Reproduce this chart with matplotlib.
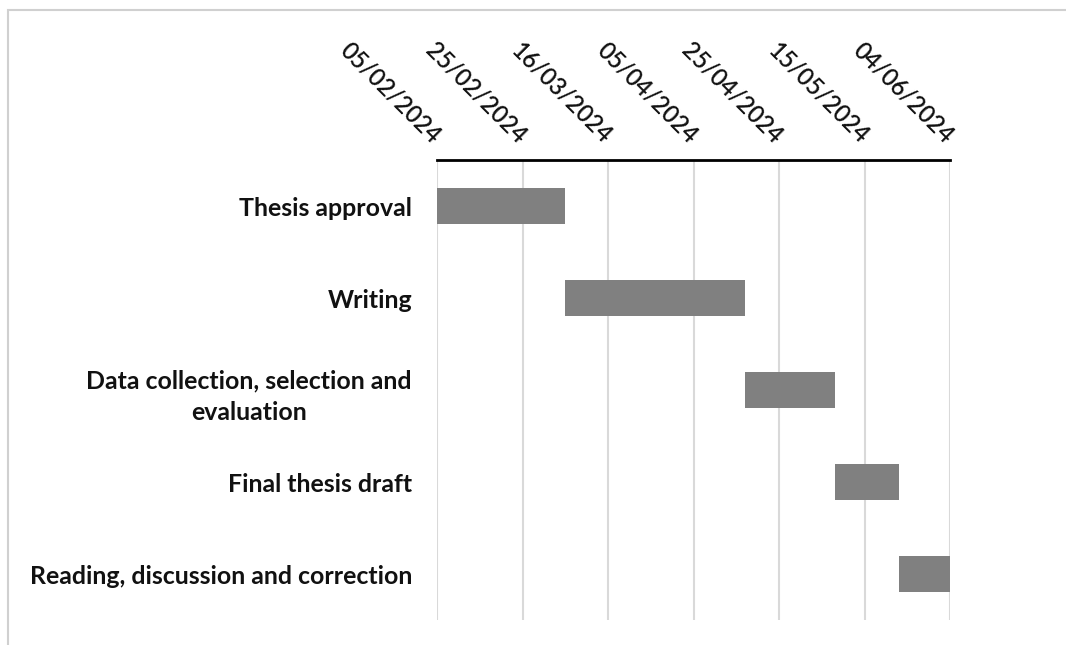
import datetime as dt
import matplotlib
matplotlib.use("Agg")
import matplotlib.pyplot as plt
import matplotlib.dates as mdates
from matplotlib.patches import Rectangle

# tasks, top to bottom
tasks = [
    "Thesis approval",
    "Writing",
    "Data collection, selection and\nevaluation",
    "Final thesis draft",
    "Reading, discussion and correction",
]
starts = ["05/02/2024", "06/03/2024", "17/04/2024", "08/05/2024", "23/05/2024"]
durations = [30, 42, 21, 15, 12]  # days

axis_start = "05/02/2024"
axis_end = "04/06/2024"
tick_step = 20  # days

plt.rcParams['font.family'] = ['Lato', 'DejaVu Sans']

def to_num(s):
    return mdates.date2num(dt.datetime.strptime(s, "%d/%m/%Y"))

start_nums = [to_num(s) for s in starts]
x0, x1 = to_num(axis_start), to_num(axis_end)

fig = plt.figure(figsize=(10.66, 6.45), dpi=100)
ax = fig.add_axes([437 / 1066, 1 - 620 / 645, (950 - 437) / 1066, (620 - 160) / 645])

ypos = list(range(len(tasks)))
ax.barh(ypos, durations, left=start_nums, height=0.4, color="#808080", zorder=3)

ax.set_xlim(x0, x1)
ax.set_ylim(len(tasks) - 0.5, -0.5)

ticks = [x0 + i * tick_step for i in range(int((x1 - x0) // tick_step) + 1)]
ax.set_xticks(ticks)
ax.xaxis.set_major_formatter(mdates.DateFormatter("%d/%m/%Y"))
ax.xaxis.tick_top()
ax.tick_params(axis="x", length=0, pad=15, labelsize=17, colors="#111111")
for lbl in ax.get_xticklabels():
    lbl.set_rotation(-45)
    lbl.set_rotation_mode("anchor")
    lbl.set_ha("right")
    lbl.set_va("center")
    lbl.set_fontweight("semibold")

ax.set_yticks(ypos)
ax.set_yticklabels(tasks, fontweight="bold", fontsize=17.9, color="#111111")
for lbl in ax.get_yticklabels():
    lbl.set_multialignment("center")
    lbl.set_linespacing(1.45)
ax.tick_params(axis="y", length=0, pad=18)

ax.grid(axis="x", color="#d9d9d9", linewidth=1.5, zorder=0)
for side in ["left", "right", "bottom"]:
    ax.spines[side].set_visible(False)
ax.spines["top"].set_linewidth(2)
ax.spines["top"].set_color("black")

# light frame around the chart area (left and top edges visible)
fig.patches.append(Rectangle((8 / 1066, -0.05), 1.2, 1 - 10 / 645 + 0.05,
                             transform=fig.transFigure, fill=False,
                             edgecolor="#d0d0d0", linewidth=1.5))

fig.savefig("out.png", dpi=100)
